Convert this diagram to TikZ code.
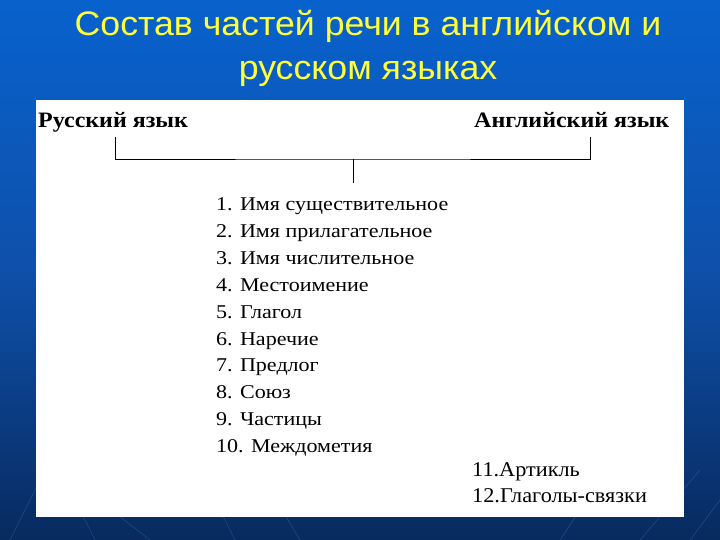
\documentclass[tikz,border=0pt]{standalone}
\usepackage{fontspec}
\setmainfont{Liberation Serif}
\newfontfamily\titlefont[FakeStretch=1.05]{Liberation Sans}
\newfontfamily\itemfont[FakeStretch=1.13]{Liberation Serif}
\newfontfamily\headfont[FakeStretch=1.09]{Liberation Serif}
\newfontfamily\extrafont[FakeStretch=1.06]{Liberation Serif}
\definecolor{bgtop}{RGB}{8,98,205}
\definecolor{bgmid}{RGB}{14,80,170}
\definecolor{bgbot}{RGB}{8,42,95}
\definecolor{titleyellow}{RGB}{255,255,60}
\definecolor{streak}{RGB}{90,140,210}
\begin{document}
\begin{tikzpicture}[x=1pt,y=-1pt,
  title/.style={font=\titlefont\fontsize{34}{40}\selectfont, text=titleyellow, inner sep=0pt, anchor=base},
  head/.style={font=\headfont\bfseries\fontsize{22}{24}\selectfont, inner sep=0pt, anchor=base west},
  item/.style={font=\itemfont\fontsize{19.5}{22}\selectfont, inner sep=0pt, anchor=base west},
  extra/.style={font=\extrafont\fontsize{21}{22}\selectfont, inner sep=0pt, anchor=base west},
  bracket/.style={line width=0.9pt, black}]
\useasboundingbox (0,0) rectangle (720,540);
\shade[top color=bgtop, bottom color=bgbot, middle color=bgmid] (0,0) rectangle (720,540);
% faint streaks
\foreach \a/\b/\c/\d in {10/540/45/470, 95/540/60/470, 150/540/105/505, 235/540/205/480, 300/540/270/490, 560/540/600/480, 640/540/700/470, 690/540/720/500}
  \draw[streak, opacity=0.3, line width=0.6pt] (\a,\b) -- (\c,\d);
\fill[white] (36,100) rectangle (684,517);
% title
\node[title] (t1) at (368,36) {Состав частей речи в английском и};
\node[title] (t2) at (368,80) {русском языках};
% headings
\node[head] (ru) at (38,128) {Русский язык};
\node[head] (en) at (474,128) {Английский язык};
% bracket
\coordinate (bl) at (115,137);
\coordinate (br) at (590,137);
\coordinate (bm) at (353,159);
\coordinate (bt) at (353,183);
\draw[bracket] (bl) |- (bm) -| (br);
\draw[bracket] (bm) -- (bt);
% list
\foreach \i/\t in {1/{1. Имя существительное},2/{2. Имя прилагательное},3/{3. Имя числительное},4/{4. Местоимение},5/{5. Глагол},6/{6. Наречие},7/{7. Предлог},8/{8. Союз},9/{9. Частицы},10/{10. Междометия}}
  \node[item] (it\i) at (216,{211+(\i-1)*26.8}) {\t};
\node[extra] (it11) at (472,476) {11.Артикль};
\node[extra] (it12) at (472,502) {12.Глаголы-связки};
\end{tikzpicture}
\end{document}
